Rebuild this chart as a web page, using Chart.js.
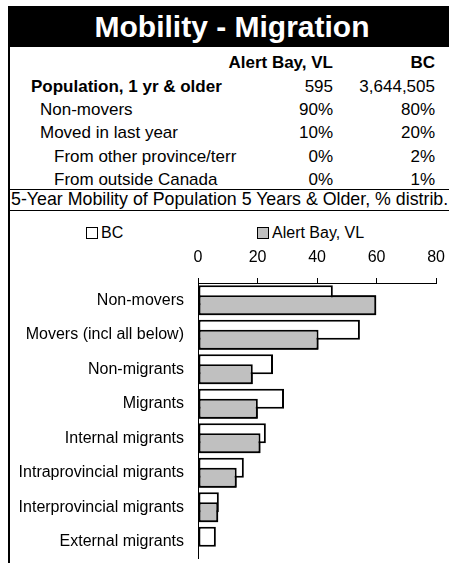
<!DOCTYPE html>
<html>
<head>
<meta charset="utf-8">
<script src="https://cdn.jsdelivr.net/npm/chart.js@4/dist/chart.umd.min.js"></script>
<style>
  body { margin: 0; background: #fff; font-family: Arial, "Liberation Sans", sans-serif; color: #000; }
  #frame { position: absolute; left: 8px; top: 6px; width: 448px; height: 560px; border-left: 2px solid #000; box-sizing: border-box; overflow: hidden; }
  #title { position: absolute; left: 0; top: 0; width: 448px; height: 41px; background: #000; color: #fff;
           font-weight: bold; font-size: 30px; line-height: 41px; text-align: center; margin-left: -2px; }
  #tbl { position: absolute; left: 0; top: 45.3px; width: 446px; font-size: 17px; }
  .row { position: relative; height: 23.4px; line-height: 23.4px; white-space: nowrap; }
  .row span { position: absolute; top: 0; }
  .line { position: absolute; left: 0; width: 448px; height: 1px; background: #000; }
  #subtitle { position: absolute; left: 1px; top: 183px; height: 21px; line-height: 21px; font-size: 17.8px; white-space: nowrap; }
  #legend { position: absolute; top: 218px; left: 0; font-size: 16px; }
  .lg-item { position: absolute; white-space: nowrap; line-height: 18px; }
  .lg-box { display: inline-block; width: 10px; height: 10px; border: 1px solid #000; vertical-align: -1px; margin-right: 3px; }
  #chartCanvas { position: absolute; left: 0; top: 237px; }
</style>
</head>
<body>
<div id="frame">
  <div id="title">Mobility - Migration</div>
  <div id="tbl"></div>
  <div class="line" style="top:183px"></div>
  <div id="subtitle">5-Year Mobility of Population 5 Years &amp; Older, % distrib.</div>
  <div class="line" style="top:204px"></div>
  <div id="legend"></div>
  <canvas id="chartCanvas" width="446" height="316"></canvas>
</div>
<script>
// 表のデータ
var tableHeader = ['Alert Bay, VL', 'BC'];
var tableLabels = ['Population, 1 yr & older', 'Non-movers', 'Moved in last year', 'From other province/terr', 'From outside Canada'];
var tableAlertBay = ['595', '90%', '10%', '0%', '0%'];
var tableBC = ['3,644,505', '80%', '20%', '2%', '1%'];
var tableIndent = [21, 30, 30, 44, 44];

// グラフのデータ
var categories = ['Non-movers', 'Movers (incl all below)', 'Non-migrants', 'Migrants',
  'Internal migrants', 'Intraprovincial migrants', 'Interprovincial migrants', 'External migrants'];
var seriesNames = ['BC', 'Alert Bay, VL'];
var bcValues = [45.3, 54.4, 25.2, 28.9, 22.8, 15.4, 7.0, 6.0];
var alertBayValues = [59.9, 40.5, 18.4, 20.1, 21.0, 13.0, 6.8, 0];
var xTicks = [0, 20, 40, 60, 80];
var seriesColors = ['#ffffff', '#c0c0c0'];

function esc(s) { return s.replace('&', '&amp;'); }

// 表を作る
var tbl = document.getElementById('tbl');
var col1Right = 446 - 323; // 右端からの距離
var col2Right = 446 - 425;
var html = '<div class="row" style="font-weight:bold">' +
  '<span style="right:' + col1Right + 'px">' + tableHeader[0] + '</span>' +
  '<span style="right:' + col2Right + 'px">' + tableHeader[1] + '</span></div>';
for (var i = 0; i < tableLabels.length; i++) {
  html += '<div class="row">' +
    '<span style="left:' + tableIndent[i] + 'px;' + (i === 0 ? 'font-weight:bold' : '') + '">' + esc(tableLabels[i]) + '</span>' +
    '<span style="right:' + col1Right + 'px">' + tableAlertBay[i] + '</span>' +
    '<span style="right:' + col2Right + 'px">' + tableBC[i] + '</span></div>';
}
tbl.innerHTML = html;

// 凡例 (HTML)
var legend = document.getElementById('legend');
var legendLeft = [76, 247];
seriesNames.forEach(function(name, k) {
  var item = document.createElement('div');
  item.className = 'lg-item';
  item.style.left = legendLeft[k] + 'px';
  item.innerHTML = '<span class="lg-box" style="background:' + seriesColors[k] + '"></span>' + name;
  legend.appendChild(item);
});

// 2番目の系列を上に重ねて描き直す
var drawOnTop = {
  id: 'drawOnTop',
  afterDatasetsDraw: function(chart) {
    var meta = chart.getDatasetMeta(1);
    var area = chart.chartArea;
    chart.ctx.save();
    chart.ctx.beginPath();
    chart.ctx.rect(area.left - 2, area.top, area.right - area.left + 4, area.bottom - area.top);
    chart.ctx.clip();
    meta.data.forEach(function(bar) { bar.draw(chart.ctx); });
    chart.ctx.restore();
  }
};

var ctx = document.getElementById('chartCanvas').getContext('2d');

var chart = new Chart(ctx, {
  type: 'bar',
  data: {
    labels: categories,
    datasets: [{
      label: seriesNames[0],
      data: bcValues,
      backgroundColor: seriesColors[0],
      borderColor: '#000',
      borderWidth: 2,
      borderSkipped: false
    }, {
      label: seriesNames[1],
      data: alertBayValues,
      backgroundColor: seriesColors[1],
      borderColor: '#000',
      borderWidth: 2,
      borderSkipped: false
    }]
  },
  options: {
    indexAxis: 'y',
    responsive: false,
    animation: false,
    categoryPercentage: 0.58,
    barPercentage: 2, // 棒を半分重ねる
    layout: {
      padding: { left: 0, right: 19, top: 0, bottom: 0 }
    },
    scales: {
      x: {
        position: 'top',
        min: 0,
        max: 80,
        afterBuildTicks: function(axis) {
          axis.ticks = xTicks.map(function(v) { return { value: v }; });
        },
        afterFit: function(axis) { axis.height = 40; },
        ticks: {
          color: '#000',
          padding: 11,
          maxRotation: 0,
          font: { family: 'Arial, "Liberation Sans"', size: 16 }
        },
        grid: {
          drawOnChartArea: false,
          drawTicks: true,
          tickLength: 5,
          color: '#000'
        },
        border: { display: true, color: '#000', width: 1 }
      },
      y: {
        afterFit: function(axis) {
          axis.width = 188;
          axis.paddingTop = 0; // 上下の余白を消す
          axis.paddingBottom = 0;
        },
        ticks: {
          color: '#000',
          padding: 14,
          autoSkip: false,
          font: { family: 'Arial, "Liberation Sans"', size: 16 }
        },
        grid: { display: false, drawTicks: false },
        border: { display: true, color: '#000', width: 1 }
      }
    },
    plugins: {
      legend: { display: false },
      tooltip: { enabled: false }
    }
  },
  plugins: [drawOnTop]
});
</script>
</body>
</html>
